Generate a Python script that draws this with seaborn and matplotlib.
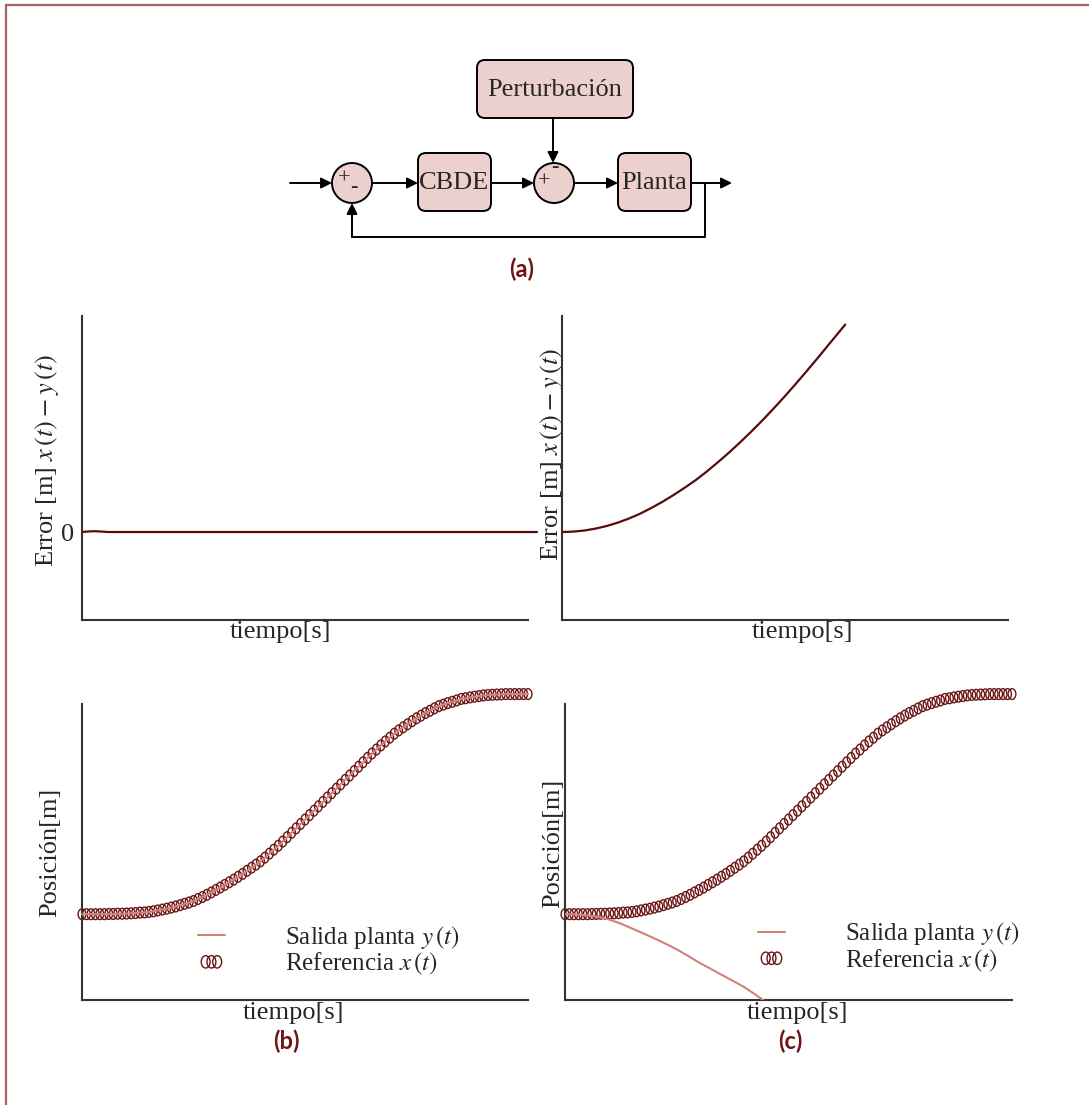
"""
Control loop figure: block diagram (a) plus error / position traces for
the tracking case (b) and the disturbed case (c).
"""

import numpy as np
import matplotlib
matplotlib.use("Agg")
import matplotlib.pyplot as plt
import seaborn as sns
from matplotlib.patches import FancyBboxPatch, Circle
from matplotlib.path import Path
from matplotlib.transforms import Affine2D

sns.set_theme(style="white")
plt.rcParams["font.family"] = ["Liberation Serif", "DejaVu Serif"]
plt.rcParams["mathtext.fontset"] = "stix"

# --- data ------------------------------------------------------------------
# uniform simulation grid, 0..10 s in 0.1 s steps
TIEMPO = np.linspace(0.0, 10.0, 101)

# reference trajectory x(t), normalised 0..1
REFERENCIA = [
    0.000, 0.000, 0.000, 0.000, 0.000, 0.000, 0.001, 0.001, 0.002, 0.002,
    0.003, 0.004, 0.005, 0.007, 0.008, 0.010, 0.013, 0.017, 0.021, 0.025,
    0.030, 0.035, 0.041, 0.047, 0.053, 0.060, 0.069, 0.078, 0.088, 0.099,
    0.110, 0.121, 0.133, 0.145, 0.157, 0.170, 0.183, 0.197, 0.211, 0.225,
    0.240, 0.257, 0.275, 0.293, 0.311, 0.330, 0.350, 0.370, 0.390, 0.410,
    0.430, 0.450, 0.470, 0.490, 0.510, 0.530, 0.550, 0.570, 0.590, 0.610,
    0.630, 0.650, 0.670, 0.690, 0.710, 0.730, 0.748, 0.767, 0.785, 0.802,
    0.820, 0.835, 0.849, 0.863, 0.877, 0.890, 0.902, 0.914, 0.924, 0.935,
    0.945, 0.952, 0.959, 0.965, 0.971, 0.978, 0.981, 0.985, 0.988, 0.991,
    0.994, 0.996, 0.997, 0.998, 0.999, 1.000, 1.000, 1.000, 1.000, 1.000,
    1.000,
]

# (b) plant output tracks the reference
SALIDA_B = list(REFERENCIA)

# (b) tracking error, essentially zero after a tiny start-up blip
T_ERROR_B = [0.0, 0.15, 0.3, 0.45, 0.6, 10.2]
ERROR_B = [0.0, 0.006, 0.008, 0.004, 0.0, 0.0]

# (c) tracking error, grows without bound
T_ERROR_C = [0.0, 0.25, 0.5, 0.75, 1.0, 1.25, 1.5, 1.75, 2.0, 2.25, 2.5,
             2.75, 3.0, 3.25, 3.5, 3.75, 4.0, 4.25, 4.5, 4.75, 5.0, 5.25,
             5.5, 5.75, 6.0, 6.35]
ERROR_C = [0.0, 0.004, 0.015, 0.034, 0.06, 0.094, 0.135, 0.183, 0.24,
           0.302, 0.37, 0.443, 0.52, 0.607, 0.70, 0.797, 0.90, 1.008,
           1.12, 1.238, 1.36, 1.487, 1.617, 1.75, 1.886, 2.075]

# (c) plant output drifts away
T_SALIDA_C = [0.0, 0.25, 0.5, 0.75, 1.0, 1.25, 1.5, 1.75, 2.0, 2.25, 2.5,
              2.75, 3.0, 3.25, 3.5, 3.75, 4.0, 4.25, 4.5]
SALIDA_C = [0.0, -0.001, -0.005, -0.013, -0.025, -0.043, -0.065, -0.087,
            -0.11, -0.134, -0.16, -0.189, -0.22, -0.247, -0.275, -0.302,
            -0.33, -0.364, -0.40]

DARK = "#6b1414"
ERR_COL = "#5a0a0a"
LIGHT = "#d4807a"
FILL = "#ebd0cd"
CAPTION = "#701414"
SPINE = "#333333"

LABEL_FS = 19
LEGEND_FS = 18

# slightly narrow open "o" like the reference markers
OVAL = Path.unit_circle().transformed(Affine2D().scale(0.72, 1.0))

fig = plt.figure(figsize=(10.89, 11.05), dpi=100)

# --- block diagram, drawn on a pixel-coordinate overlay ---------------------
dg = fig.add_axes([0, 0, 1, 1])
dg.set_xlim(0, 1089)
dg.set_ylim(1105, 0)
dg.axis("off")

# page frame (top and left edges only)
dg.plot([6, 1089], [5, 5], color="#a86262", lw=1.6, clip_on=False)
dg.plot([6, 6], [5, 1105], color="#a86262", lw=1.6, clip_on=False)


def box(x0, y0, x1, y1, text):
    dg.add_patch(FancyBboxPatch((x0, y0), x1 - x0, y1 - y0,
                                boxstyle="round,pad=0,rounding_size=8",
                                fc=FILL, ec="black", lw=1.4))
    dg.text((x0 + x1) / 2, (y0 + y1) / 2 + 1, text, ha="center", va="center",
            fontsize=LABEL_FS)


def arrow(x0, y0, x1, y1):
    dg.annotate("", xy=(x1, y1), xytext=(x0, y0),
                arrowprops=dict(arrowstyle="-|>", color="black", lw=1.4,
                                mutation_scale=16, shrinkA=0, shrinkB=0))


box(477, 60, 633, 118, "Perturbación")
box(418, 153, 491, 211, "CBDE")
box(618, 153, 691, 211, "Planta")
for cx in (352, 554):
    dg.add_patch(Circle((cx, 183), 20, fc=FILL, ec="black", lw=1.4))

dg.text(344, 179, "+", ha="center", va="center", fontsize=16)
dg.text(354, 187, "-", ha="center", va="center", fontsize=16)
dg.text(544, 182, "+", ha="center", va="center", fontsize=16)
dg.text(555, 167, "-", ha="center", va="center", fontsize=16)

arrow(290, 183, 332, 183)
arrow(372, 183, 418, 183)
arrow(491, 183, 534, 183)
arrow(574, 183, 618, 183)
arrow(691, 183, 732, 183)
arrow(553, 118, 553, 163)
dg.plot([705, 705, 352], [183, 237, 237], color="black", lw=1.4)
arrow(352, 237, 352, 203)

for cx, cy, tag in ((522, 269, "(a)"), (286, 1041, "(b)"), (790, 1041, "(c)")):
    dg.text(cx, cy, tag, ha="center", va="center", fontsize=17,
            fontweight="bold", color=CAPTION, family="Lato")

# --- plot panels -------------------------------------------------------------
ERR_LIM = (-0.88, 2.16)
POS_LIM = (-0.39, 0.955)


def style(ax, ylim, ylabel, ylab_x, ylab_y, xlab_x, xlab_y):
    ax.set_xlim(0, 10)
    ax.set_ylim(*ylim)
    sns.despine(ax=ax)
    for side in ("left", "bottom"):
        ax.spines[side].set_color(SPINE)
        ax.spines[side].set_linewidth(1.5)
    ax.set_xticks([])
    ax.set_yticks([])
    ax.set_facecolor("none")
    ax.set_xlabel("tiempo[s]", fontsize=LABEL_FS, labelpad=0)
    ax.set_ylabel(ylabel, fontsize=LABEL_FS)
    ax.xaxis.set_label_coords(xlab_x, xlab_y)
    ax.yaxis.set_label_coords(ylab_x, ylab_y)


ERR_LABEL = r"Error [m] $x\,(t) - y\,(t)$"

ax1 = fig.add_axes([0.0753, 0.4389, 0.4096, 0.2751])
sns.lineplot(x=T_ERROR_B, y=ERROR_B, ax=ax1, color=ERR_COL, lw=1.6,
             estimator=None, sort=False, clip_on=False)
style(ax1, ERR_LIM, ERR_LABEL, -0.047, 0.525, 0.444, -0.002)
ax1.set_yticks([0])
ax1.set_yticklabels(["0"], fontsize=LABEL_FS)
ax1.tick_params(axis="y", length=0, pad=6)

ax2 = fig.add_axes([0.5161, 0.4389, 0.4096, 0.2751])
sns.lineplot(x=T_ERROR_C, y=ERROR_C, ax=ax2, color=ERR_COL, lw=1.6,
             estimator=None, sort=False, clip_on=False)
style(ax2, ERR_LIM, ERR_LABEL, 0.008, 0.545, 0.54, -0.002)


def position_panel(rect, t_out, y_out, ylab_x, ylab_y, xlab_x, leg_x, leg_y):
    ax = fig.add_axes(rect)
    sns.scatterplot(x=TIEMPO, y=REFERENCIA, ax=ax, marker=OVAL, s=60,
                    facecolors="none", edgecolor=DARK, linewidth=1.0,
                    clip_on=False, zorder=2, label="Referencia $x\\,(t)$")
    sns.lineplot(x=t_out, y=y_out, ax=ax, color=LIGHT, lw=1.5,
                 estimator=None, sort=False, zorder=3,
                 label="Salida planta $y\\,(t)$")
    style(ax, POS_LIM, "Posición[m]", ylab_x, ylab_y, xlab_x, -0.008)
    handles, labels = ax.get_legend_handles_labels()
    order = [labels.index("Salida planta $y\\,(t)$"),
             labels.index("Referencia $x\\,(t)$")]
    ax.legend([handles[i] for i in order], [labels[i] for i in order],
              loc="center left", bbox_to_anchor=(leg_x, leg_y),
              frameon=False, fontsize=LEGEND_FS, handlelength=1.06,
              handletextpad=2.4, scatterpoints=3, scatteryoffsets=[0.5],
              markerscale=1.15, labelspacing=0.0, borderpad=0.4)
    return ax


ax3 = position_panel([0.0753, 0.0950, 0.4096, 0.2679], TIEMPO, SALIDA_B,
                     -0.046, 0.5, 0.473, 0.21, 0.167)
ax3.lines[-1].set_clip_on(False)

ax4 = position_panel([0.5188, 0.0950, 0.4105, 0.2679], T_SALIDA_C, SALIDA_C,
                     -0.001, 0.53, 0.519, 0.382, 0.179)

fig.savefig("out.png", dpi=100)
